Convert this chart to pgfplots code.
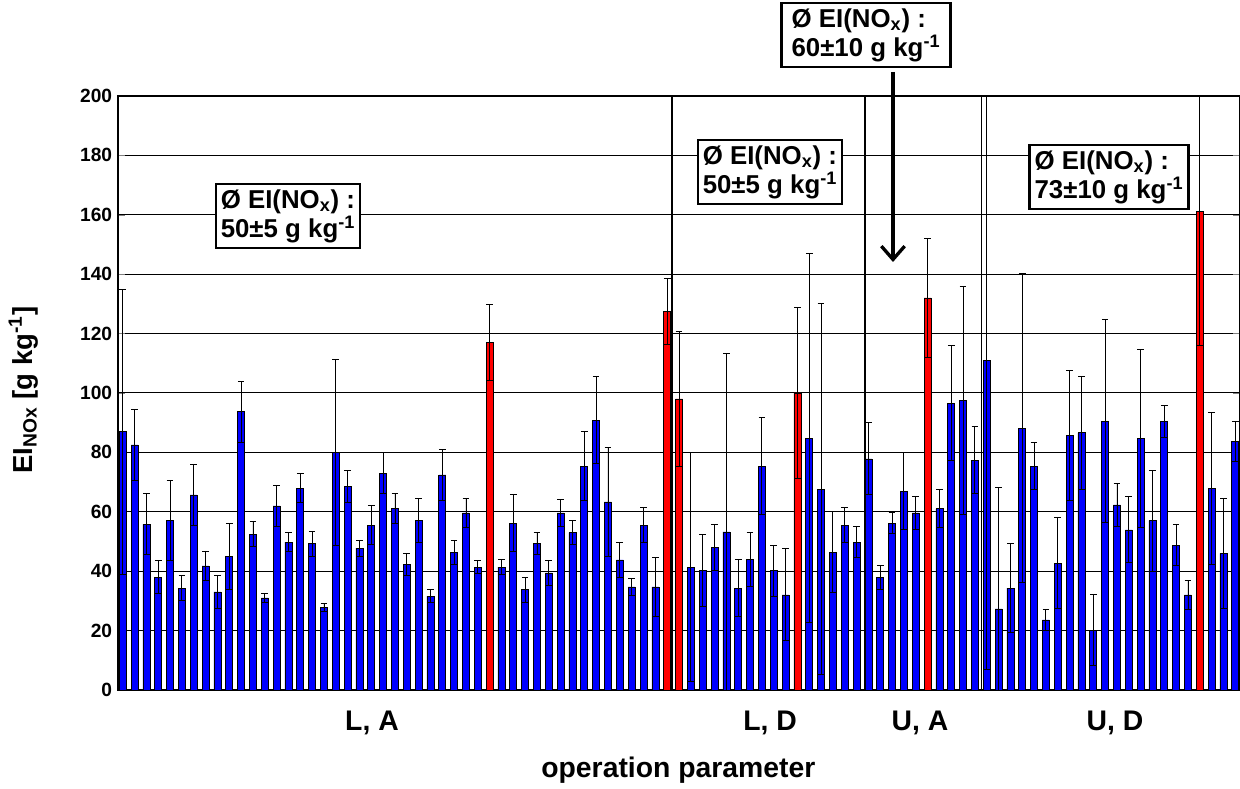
\documentclass[border=0pt]{standalone}
\usepackage{pgfplots}
\pgfplotsset{compat=1.18}
\usepackage{pgfplotstable}
\usetikzlibrary{arrows.meta}
\usepackage{fontspec}
\setmainfont{Liberation Sans}
\pgfplotstableread{
x y e
1 87 48
2 82.5 12
3 55.8 10.2
4 38 5.5
5 57 13.5
6 34.3 4.2
7 65.7 10.3
8 41.8 5
9 33 5.5
10 45 11
11 93.7 10.3
12 52.5 4.3
13 31 1.5
14 62 7
15 49.8 3.2
16 68 5
17 49.3 4.2
18 27.7 1.3
19 80 31.4
20 68.5 5.5
21 47.8 2.7
22 55.5 6.5
23 73 7
24 61 5
25 42.2 3.6
26 57 7.4
27 31.6 2.2
28 72.4 8.6
29 46.4 4.1
30 59.6 4.8
31 41.4 2.2
33 41.4 2.6
34 56.2 9.5
35 33.8 4.2
36 49.3 3.7
37 39.4 4.2
38 59.6 4.4
39 53 4
40 75.4 11.6
41 90.9 14.7
42 63.3 18.4
43 43.8 6
44 34.7 2.8
45 55.4 5.9
46 34.7 9.9
49 41.4 38.6
50 40.2 12.2
51 47.9 7.7
52 53.2 60.2
53 34.3 9.7
54 44 9
55 75.4 16.4
56 40.2 8.6
57 32 15.5
59 84.8 62
60 67.6 62.4
61 46.4 13.6
62 55.4 5.9
63 49.8 5.2
64 77.8 12.1
65 38 4
66 56.2 3.4
67 67 13
68 59.6 5.4
70 61 6.4
71 96.6 19.4
72 97.4 38.4
73 77.4 11.2
74 111 104
75 27.3 41
76 34.3 14.9
77 88.2 52
78 75.4 7.9
79 23.6 3.4
80 42.7 15.3
81 85.8 21.9
82 86.6 19
83 20.2 11.8
84 90.5 34.1
85 62.3 7.1
86 53.9 11.1
87 84.8 30
88 57 17
89 90.5 5.4
90 48.8 7
91 32 4.9
93 68 25.6
94 46 18.4
95 83.8 6.7
}\blue
\pgfplotstableread{
x y e
32 117 12.7
47 127.4 11
48 98 22.6
58 100 28.7
69 132 20
92 161 45
}\red
\begin{document}
\begin{tikzpicture}
\useasboundingbox (0,0) rectangle (744pt,473.4pt);
\begin{axis}[
  at={(70.8pt,59.4pt)}, anchor=south west,
  scale only axis, width=673.2pt, height=356.4pt,
  xmin=0.6, xmax=95.4, ymin=0, ymax=200,
  ytick={0,20,...,200}, xtick=\empty,
  ymajorgrids, grid style={black, line width=0.6pt},
  axis line style={line width=1.2pt},
  yticklabel style={font=\fontsize{11.5}{13}\selectfont\bfseries},
  /pgf/number format/assume math mode=true,
  ybar, bar width=4.2pt, bar shift=0pt,
  error bars/error bar style={line width=0.5pt, black},
  error bars/error mark options={rotate=90, mark size=2pt, line width=0.6pt, black},
]
\addplot[fill=blue, draw=black, line width=0.4pt, bar shift=0pt,
  error bars/.cd, y dir=both, y explicit] table[x=x, y=y, y error=e] {\blue};
\addplot[fill=red, draw=black, line width=0.4pt, bar shift=0pt,
  error bars/.cd, y dir=both, y explicit] table[x=x, y=y, y error=e] {\red};
\draw[line width=1pt] (axis cs:47.4,0) -- (axis cs:47.4,200);
\draw[line width=1pt] (axis cs:63.7,0) -- (axis cs:63.7,200);
\draw[line width=1pt] (axis cs:73.55,0) -- (axis cs:73.55,200);
\end{axis}
\tikzset{bx/.style={draw, line width=1.4pt, fill=white, align=left, inner sep=3pt, font=\fontsize{15.5}{17.5}\selectfont\bfseries}}
\node[bx] at (172.8pt,343.8pt) {Ø EI(NO\textsubscript{x}) :\\50±5 g kg\textsuperscript{-1}};
\node[bx] at (462pt,370.2pt) {Ø EI(NO\textsubscript{x}) :\\50±5 g kg\textsuperscript{-1}};
\node[bx, inner xsep=6pt] at (519.6pt,452.4pt) {Ø EI(NO\textsubscript{x}) :\\60±10 g kg\textsuperscript{-1}};
\node[bx] at (665.4pt,367.2pt) {Ø EI(NO\textsubscript{x}) :\\73±10 g kg\textsuperscript{-1}};
\draw[line width=2pt, -{Straight Barb[length=8pt,width=14pt]}] (535.8pt,430.2pt) -- (535.8pt,316.2pt);
\tikzset{lb/.style={font=\fontsize{17}{19}\selectfont\bfseries}}
\node[lb] at (223.2pt,39.6pt) {L, A};
\node[lb] at (462pt,39.6pt) {L, D};
\node[lb] at (552pt,39.6pt) {U, A};
\node[lb] at (669pt,39.6pt) {U, D};
\node[lb] at (407pt,11.4pt) {operation parameter};
\node[lb, rotate=90, font=\fontsize{16.5}{18}\selectfont\bfseries] at (14pt,239.4pt) {EI\textsubscript{NOx} [g kg\textsuperscript{-1}]};
\end{tikzpicture}
\end{document}
